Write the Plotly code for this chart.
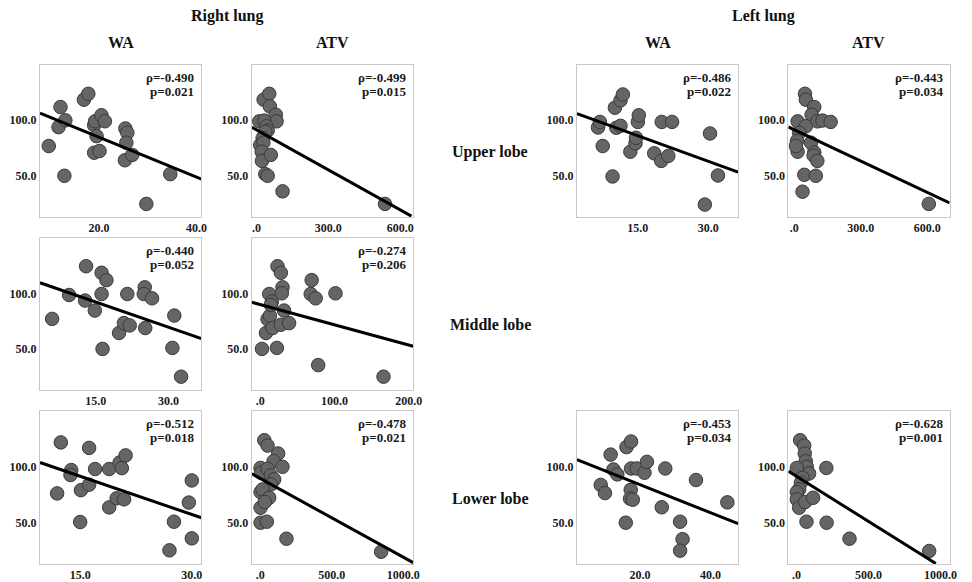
import plotly.graph_objects as go

# The page body adds an 8 px margin; the figure is sized so page content fills 972x582.
PAGE_OFF = 8
W, H = 972 - PAGE_OFF, 582 - PAGE_OFF
FONT = "Liberation Serif, Times New Roman, serif"

# ---------------- data ----------------
# Right lung, upper lobe
ru_wa_x = [9.7, 12.1, 11.7, 13.1, 12.9, 16.9, 17.8, 19.0, 19.2, 20.5, 21.2, 19.5, 19.0, 20.1, 25.4, 25.8, 25.6, 25.3, 26.8, 29.7, 34.6]
ru_wa_y = [76.8, 111.9, 93.8, 100, 50, 118.5, 123.8, 95.5, 99.1, 104.5, 99.1, 85.7, 70.8, 72.3, 92.6, 88.7, 79.8, 64, 68.8, 24.7, 51.5]
ru_wa_fit_x = [7.9, 41]
ru_wa_fit_y = [106.5, 47]

ru_atv_x = [12, 30, 53.5, 56, 81, 84, 33, 42, 47, 37, 26, 16, 29, 22, 23, 60, 37, 47, 109, 536]
ru_atv_y = [99, 118.5, 123.8, 112.5, 105, 99, 99.7, 94.6, 90.8, 89.6, 84, 77.7, 79.8, 71.7, 63.4, 68.8, 51.5, 50, 36, 24.7]
ru_atv_fit_x = [-19.6, 646]
ru_atv_fit_y = [93.75, 13.7]

# Right lung, middle lobe
rm_wa_x = [6.0, 9.5, 13, 12.8, 14.8, 16.2, 17.2, 16.2, 16.4, 19.8, 20.8, 22, 21.5, 25.1, 24.9, 26.6, 25.2, 31.2, 30.8, 32.6]
rm_wa_y = [77, 98.5, 124.4, 93.5, 84.5, 118.5, 111.9, 99.4, 50, 64.3, 73.2, 71.1, 99.4, 105.4, 99.4, 95.5, 68.75, 80, 50.9, 25]
rm_wa_fit_x = [3.5, 36.8]
rm_wa_fit_y = [109.5, 59.2]

rm_atv_x = [2.2, 7.6, 9.8, 12.9, 12, 15.6, 14.3, 16.5, 22.3, 23.2, 27.7, 29.9, 29, 32, 27.7, 38.8, 69.2, 67.9, 74.6, 101.3, 78, 166]
rm_atv_y = [50, 64.3, 76.8, 79.8, 99.4, 92.6, 89.6, 68.75, 50.9, 124.4, 118.5, 105.4, 100, 84.5, 71.7, 73.2, 111.9, 99.4, 95.5, 100, 35.4, 25]
rm_atv_fit_x = [-11.6, 206]
rm_atv_fit_y = [92, 52.4]

# Right lung, lower lobe
rl_wa_x = [12.4, 11.9, 13.8, 13.7, 15.0, 15.1, 16.2, 16.2, 17.0, 18.9, 18.9, 19.9, 20.3, 20.6, 20.9, 21.1, 27.6, 27.0, 29.6, 30.0, 30.0]
rl_wa_y = [121.8, 76.2, 97.1, 92.7, 50.6, 79.1, 84, 116.9, 98, 98, 63.7, 71.8, 103.8, 98.8, 70.9, 110.2, 50.9, 25.3, 68, 87.8, 36]
rl_wa_fit_x = [9.6, 31.3]
rl_wa_fit_y = [103.8, 54.4]

rl_atv_x = [28, 51, 125, 93, 2, 5, 51, 74, 97, 74, 155, 2, 16, 2, 62, 32, 2, 46, 183, 845]
rl_atv_y = [123.8, 119, 111.9, 105, 99, 94.6, 98.2, 92.3, 88.7, 84.2, 100, 77.4, 79.8, 63.4, 72.3, 68.5, 50, 50.9, 35.7, 24]
rl_atv_fit_x = [-60, 1069]
rl_atv_fit_y = [93.75, 14.3]

# Left lung, upper lobe
lu_wa_x = [6.5, 6.9, 7.5, 9.6, 10.1, 10.4, 11.3, 11.3, 11.8, 13.4, 14.5, 14.6, 15, 15.2, 18.5, 20, 20.1, 21.5, 22.3, 30.4, 29.3, 32.1]
lu_wa_y = [93.5, 98.5, 76.8, 49.4, 111.3, 93.2, 95, 117.9, 123.2, 71.7, 79.2, 84.2, 98.5, 104.5, 70.2, 63.4, 98.5, 67.9, 98.5, 88.1, 24.1, 50.3]
lu_wa_fit_x = [2, 36.4]
lu_wa_fit_y = [106, 53.3]

lu_atv_x = [15, 48, 52, 90, 78, 104, 127, 164, 52, 22, 12, 15, 7, 75, 90, 87, 104, 45, 97, 37, 607]
lu_atv_y = [99, 123.8, 118.5, 111.9, 105, 99, 99.7, 98.5, 94.6, 88.7, 81.3, 71.7, 76.8, 79.8, 71.1, 68.2, 63.4, 50.9, 50, 35.7, 24.7]
lu_atv_fit_x = [-27, 701]
lu_atv_fit_y = [94, 25.6]

# Left lung, lower lobe
ll_wa_x = [8.9, 10.1, 11.7, 12.5, 13.6, 16, 16.2, 17.5, 17.5, 19.1, 17.4, 17.2, 18, 21.3, 22, 27.2, 26.2, 31.4, 32.1, 31.4, 35.9, 44.8]
ll_wa_y = [83.8, 76.5, 110.9, 97.6, 93.2, 50, 117.6, 122.6, 98.5, 98.5, 79.4, 71.5, 70.6, 94.7, 104.4, 98.5, 63.8, 50.9, 35.3, 25, 88.2, 68.2]
ll_wa_fit_x = [2.15, 47.85]
ll_wa_fit_y = [106.5, 49.1]

ll_atv_x = [25, 53, 57, 64, 71, 2, 87, 41, 30, 18, 2, 2, 18, 60, 115, 207, 69, 209, 368, 922]
ll_atv_y = [123.8, 119, 111.9, 105, 100, 99, 94, 90.2, 85.7, 79.8, 77.4, 70.8, 63.4, 68.5, 72.3, 99, 50.9, 50, 35.7, 24.7]
ll_atv_fit_x = [-57, 968]
ll_atv_fit_y = [96, 13.5]

rho_labels = ["ρ=-0.490", "ρ=-0.499", "ρ=-0.440", "ρ=-0.274", "ρ=-0.512", "ρ=-0.478",
              "ρ=-0.486", "ρ=-0.443", "ρ=-0.453", "ρ=-0.628"]
p_labels = ["p=0.021", "p=0.015", "p=0.052", "p=0.206", "p=0.018", "p=0.021",
            "p=0.022", "p=0.034", "p=0.034", "p=0.001"]

y_tickvals = [50, 100]
y_ticktext = ["50.0", "100.0"]
y_range = [13, 150]

lung_titles = ["Right lung", "Left lung"]
column_titles = ["WA", "ATV", "WA", "ATV"]
lobe_titles = ["Upper lobe", "Middle lobe", "Lower lobe"]

# ---------------- layout geometry (window pixels) ----------------
cols_px = [(40.3, 203.3), (254, 417), (582.3, 745), (795.7, 958.5)]
rows_px = [(65, 218), (239, 392), (413, 567)]


def px_x(v):
    return (v - PAGE_OFF) / W


def px_y(v):
    return 1 - (v - PAGE_OFF) / H


panels = [
    # (col, row, x, y, fitx, fity, xrange, xtickvals, xticktext)
    (0, 0, ru_wa_x, ru_wa_y, ru_wa_fit_x, ru_wa_fit_y, [7.9, 41], [20, 40], ["20.0", "40.0"]),
    (1, 0, ru_atv_x, ru_atv_y, ru_atv_fit_x, ru_atv_fit_y, [-19.6, 653.5], [0, 300, 600], [".0", "300.0", "600.0"]),
    (0, 1, rm_wa_x, rm_wa_y, rm_wa_fit_x, rm_wa_fit_y, [3.5, 36.8], [15, 30], ["15.0", "30.0"]),
    (1, 1, rm_atv_x, rm_atv_y, rm_atv_fit_x, rm_atv_fit_y, [-11.6, 206], [0, 100, 200], [".0", "100.0", "200.0"]),
    (0, 2, rl_wa_x, rl_wa_y, rl_wa_fit_x, rl_wa_fit_y, [9.6, 31.3], [15, 30], ["15.0", "30.0"]),
    (1, 2, rl_atv_x, rl_atv_y, rl_atv_fit_x, rl_atv_fit_y, [-60, 1069], [0, 500, 1000], [".0", "500.0", "1000.0"]),
    (2, 0, lu_wa_x, lu_wa_y, lu_wa_fit_x, lu_wa_fit_y, [2, 36.4], [15, 30], ["15.0", "30.0"]),
    (3, 0, lu_atv_x, lu_atv_y, lu_atv_fit_x, lu_atv_fit_y, [-27, 701], [0, 300, 600], [".0", "300.0", "600.0"]),
    (2, 2, ll_wa_x, ll_wa_y, ll_wa_fit_x, ll_wa_fit_y, [2.15, 47.85], [20, 40], ["20.0", "40.0"]),
    (3, 2, ll_atv_x, ll_atv_y, ll_atv_fit_x, ll_atv_fit_y, [-57, 1064], [0, 500, 1000], [".0", "500.0", "1000.0"]),
]

fig = go.Figure()
layout = dict(
    width=W, height=H, margin=dict(l=0, r=0, t=0, b=0, pad=0),
    paper_bgcolor="white", plot_bgcolor="white", showlegend=False,
)
annotations = []

tickfont = dict(family=FONT, size=12, color="#1a1a1a", weight="bold")

for i, (c, r, xs, ys, fx, fy, xr, xtv, xtt) in enumerate(panels, start=1):
    xa = "xaxis" if i == 1 else f"xaxis{i}"
    ya = "yaxis" if i == 1 else f"yaxis{i}"
    xref = "x" if i == 1 else f"x{i}"
    yref = "y" if i == 1 else f"y{i}"
    l, rr = cols_px[c]
    t, b = rows_px[r]
    layout[xa] = dict(
        domain=[px_x(l), px_x(rr)], anchor=yref, range=xr,
        tickvals=xtv, ticktext=xtt, tickfont=tickfont,
        showgrid=False, zeroline=False, showline=True, mirror=True,
        linecolor="#c8c8c8", linewidth=1, ticks="", fixedrange=True,
    )
    layout[ya] = dict(
        domain=[px_y(b), px_y(t)], anchor=xref, range=y_range,
        tickvals=y_tickvals, ticktext=y_ticktext, tickfont=tickfont,
        showgrid=False, zeroline=False, showline=True, mirror=True,
        linecolor="#c8c8c8", linewidth=1, ticks="", fixedrange=True,
    )
    fig.add_trace(go.Scatter(
        x=xs, y=ys, mode="markers", xaxis=xref, yaxis=yref,
        marker=dict(size=13.5, color="#656565", line=dict(color="#3a3a3a", width=1)),
        hoverinfo="skip",
    ))
    fig.add_trace(go.Scatter(
        x=fx, y=fy, mode="lines", xaxis=xref, yaxis=yref,
        line=dict(color="black", width=3), hoverinfo="skip",
    ))
    annotations.append(dict(
        xref=f"{xref} domain", yref=f"{yref} domain", x=1, y=1,
        xanchor="right", yanchor="middle", xshift=-5, yshift=-12.5,
        text=rho_labels[i - 1], showarrow=False,
        font=dict(family=FONT, size=13, color="#1a1a1a", weight="bold"),
    ))
    annotations.append(dict(
        xref=f"{xref} domain", yref=f"{yref} domain", x=1, y=1,
        xanchor="right", yanchor="middle", xshift=-5, yshift=-27,
        text=p_labels[i - 1], showarrow=False,
        font=dict(family=FONT, size=13, color="#1a1a1a", weight="bold"),
    ))

title_font = dict(family=FONT, size=16, color="#111111", weight="bold")
for k, name in enumerate(lung_titles):
    c0, c1 = cols_px[2 * k], cols_px[2 * k + 1]
    cx = ((c0[0] + c0[1]) / 2 + (c1[0] + c1[1]) / 2) / 2
    annotations.append(dict(xref="paper", yref="paper", x=px_x(cx), y=px_y(16),
                            xanchor="center", yanchor="middle", text=name,
                            showarrow=False, font=title_font))
for k, name in enumerate(column_titles):
    cx = (cols_px[k][0] + cols_px[k][1]) / 2
    annotations.append(dict(xref="paper", yref="paper", x=px_x(cx), y=px_y(43),
                            xanchor="center", yanchor="middle", text=name,
                            showarrow=False, font=title_font))
for k, name in enumerate(lobe_titles):
    cy = (rows_px[k][0] + rows_px[k][1]) / 2 + 11
    annotations.append(dict(xref="paper", yref="paper", x=px_x(495), y=px_y(cy),
                            xanchor="center", yanchor="middle", text=name,
                            showarrow=False, font=title_font))

layout["annotations"] = annotations
fig.update_layout(**layout)
fig.write_html("out.html")
